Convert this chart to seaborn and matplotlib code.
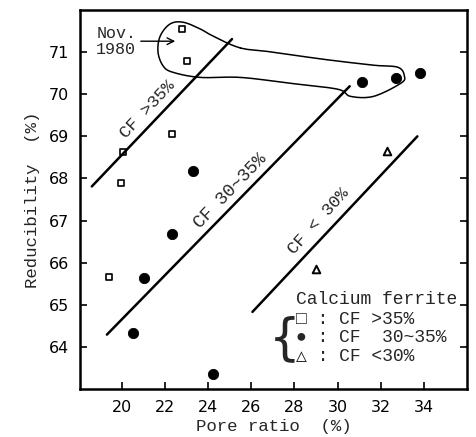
import numpy as np
import pandas as pd
import matplotlib
matplotlib.use("Agg")
import matplotlib.pyplot as plt
import seaborn as sns

# ---- data ----
sq_x = [22.8, 23.0, 22.3, 20.05, 19.95, 19.4]
sq_y = [71.55, 70.8, 69.05, 68.62, 67.88, 65.67]
ci_x = [31.15, 32.7, 33.8, 23.3, 22.3, 21.0, 20.5, 24.2]
ci_y = [70.3, 70.38, 70.5, 68.17, 66.69, 65.64, 64.33, 63.35]
tr_x = [32.3, 29.0]
tr_y = [68.65, 65.86]
groups = ["CF >35%", "CF 30~35%", "CF <30%"]

# trend lines (endpoints)
line35_x = [18.6, 25.1]
line35_y = [67.81, 71.31]
line3035_x = [19.3, 30.56]
line3035_y = [64.29, 70.19]
line30_x = [26.05, 33.7]
line30_y = [64.83, 69.0]

# enclosure of Nov. 1980 points (outline)
blob_x = [25.49, 24.23, 23.63, 22.84, 22.23, 21.77, 21.67, 21.91, 22.37, 23.63,
          25.49, 27.81, 30.0, 30.6, 31.67, 32.93, 33.1, 32.8, 31.67, 29.35, 27.02]
blob_y = [71.10, 71.38, 71.55, 71.71, 71.67, 71.38, 71.0, 70.67, 70.52, 70.40,
          70.40, 70.26, 70.12, 69.95, 69.95, 70.26, 70.43, 70.64, 70.69, 70.83, 71.0]

x_ticks = [20, 22, 24, 26, 28, 30, 32, 34]
y_ticks = [64, 65, 66, 67, 68, 69, 70, 71]

df = pd.DataFrame({
    "x": sq_x + ci_x + tr_x,
    "y": sq_y + ci_y + tr_y,
    "g": [groups[0]] * len(sq_x) + [groups[1]] * len(ci_x) + [groups[2]] * len(tr_x),
})

sns.set_theme(style="ticks")
plt.rcParams["font.family"] = ["DejaVu Sans"]
mono = ["Liberation Mono", "DejaVu Sans Mono"]

fig = plt.figure(figsize=(4.76, 4.37), dpi=100)
ax = fig.add_axes([0.168, 0.110, 0.813, 0.867])

# markers
sub = df[df.g == groups[0]]
sns.scatterplot(data=sub, x="x", y="y", marker="s", s=22, facecolor="white",
                edgecolor="black", linewidth=1.2, ax=ax, legend=False)
sub = df[df.g == groups[1]]
sns.scatterplot(data=sub, x="x", y="y", marker="o", s=55, color="black",
                edgecolor="black", ax=ax, legend=False)
sub = df[df.g == groups[2]]
sns.scatterplot(data=sub, x="x", y="y", marker="^", s=30, facecolor="white",
                edgecolor="black", linewidth=1.4, ax=ax, legend=False)

# lines
for lx, ly in [(line35_x, line35_y), (line3035_x, line3035_y), (line30_x, line30_y)]:
    sns.lineplot(x=lx, y=ly, color="black", linewidth=1.8, ax=ax)

# smooth closed enclosure (Catmull-Rom)
P = np.column_stack([blob_x, blob_y])
n = len(P)
pts = []
for i in range(n):
    p0, p1, p2, p3 = P[(i - 1) % n], P[i], P[(i + 1) % n], P[(i + 2) % n]
    for t in np.linspace(0, 1, 12, endpoint=False):
        t2, t3 = t * t, t * t * t
        pts.append(0.5 * ((2 * p1) + (-p0 + p2) * t + (2 * p0 - 5 * p1 + 4 * p2 - p3) * t2
                          + (-p0 + 3 * p1 - 3 * p2 + p3) * t3))
pts.append(pts[0])
pts = np.array(pts)
ax.plot(pts[:, 0], pts[:, 1], color="black", linewidth=1.1)

ax.set_xlim(18.05, 36.0)
ax.set_ylim(63.0, 72.0)
ax.set_xticks(x_ticks)
ax.set_yticks(y_ticks)
ax.set_xticklabels([str(v) for v in x_ticks], fontsize=11.5)
ax.set_yticklabels([str(v) for v in y_ticks], fontsize=11.5)
ax.tick_params(direction="in", length=5, width=1.2, colors="black", pad=8)
ax.tick_params(axis="y", right=True)
for s in ax.spines.values():
    s.set_linewidth(1.8)
    s.set_color("black")

ax.set_xlabel("Pore ratio  (%)", fontsize=12.5, family=mono, labelpad=3)
ax.set_ylabel("Reducibility  (%)", fontsize=12.5, family=mono, labelpad=6)

# annotations
ax.annotate("Nov.\n1980", xy=(22.47, 71.26), xytext=(18.8, 71.26),
            fontsize=12, family=mono, va="center", ha="left", linespacing=1.1,
            arrowprops=dict(arrowstyle="->", color="black", lw=1.0,
                            shrinkA=1, shrinkB=0))
ax.text(21.16, 69.64, "CF >35%", rotation=47, fontsize=12.5, family=mono,
        ha="center", va="center", rotation_mode="anchor")
ax.text(25.02, 67.69, "CF 30~35%", rotation=46, fontsize=13, family=mono,
        ha="center", va="center", rotation_mode="anchor")
ax.text(29.1, 66.98, "CF < 30%", rotation=48, fontsize=12.5, family=mono,
        ha="center", va="center", rotation_mode="anchor")

# legend block
ax.text(28.05, 65.12, "Calcium ferrite", fontsize=13, family=mono, ha="left", va="center")
ax.text(27.55, 64.18, "{", fontsize=36, family=["DejaVu Sans"], ha="center", va="center")
ax.text(28.09, 64.64, "□ : CF >35%", fontsize=13, family=mono, ha="left", va="center")
ax.text(28.09, 64.21, "● : CF  30~35%", fontsize=13, family=mono, ha="left", va="center")
ax.text(28.09, 63.76, "△ : CF <30%", fontsize=13, family=mono, ha="left", va="center")

fig.savefig("out.png", dpi=100)
